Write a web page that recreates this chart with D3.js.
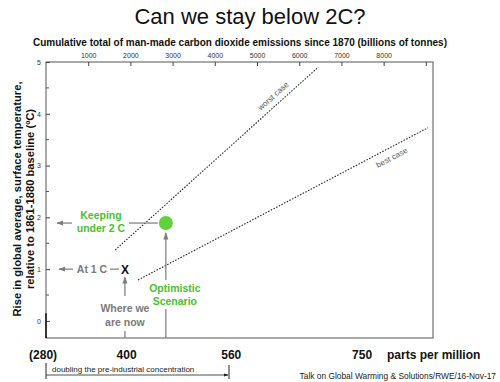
<!DOCTYPE html>
<html>
<head>
<meta charset="utf-8">
<script src="https://cdn.jsdelivr.net/npm/d3@7"></script>
<style>
  body { margin: 0; background: #fff; }
  text { font-family: "Liberation Sans", Arial, sans-serif; }
</style>
</head>
<body>
<svg id="chart" width="500" height="382"></svg>
<script>
// data
let emissionTicks = [1000, 2000, 3000, 4000, 5000, 6000, 7000, 8000, 9000];
let tempTicks = [0, 1, 2, 3, 4, 5];
let tempMinor = [0.5, 1.5, 2.5, 3.5, 4.5];
// concentration labels placed at an equivalent cumulative emission
let ppmLabels = ["(280)", "400", "560", "750"];
let ppmAtEmission = [-70, 1910, 4390, 7490];
// scenario lines: [emissions, temperature]
let worstCase = [[1640, 1.37], [6450, 4.9]];
let bestCase = [[2180, 0.79], [9050, 3.73]];
let nowPoint = [1870, 1.0];
let optimisticPoint = [2840, 1.89];

let width = 500;
let height = 382;
let svg = d3.select("#chart");

let x = d3.scaleLinear().domain([0, 9170]).range([46, 433]);
let y = d3.scaleLinear().domain([-0.33, 5]).range([338, 62]);

let grey = "#7a7a7a";
let green = "#47c22e";

let defs = svg.append("defs");
function marker(id, color) {
    defs.append("marker")
        .attr("id", id)
        .attr("viewBox", "0 0 10 10")
        .attr("refX", 9).attr("refY", 5)
        .attr("markerWidth", 6).attr("markerHeight", 6)
        .attr("orient", "auto-start-reverse")
        .append("path")
        .attr("d", "M0,1.5 L10,5 L0,8.5 Z")
        .attr("fill", color);
}
marker("arrGrey", grey);
marker("arrBlack", "#222");

// title
svg.append("text")
    .attr("x", width / 2).attr("y", 24)
    .attr("text-anchor", "middle")
    .attr("font-size", 22)
    .attr("fill", "#111")
    .text("Can we stay below 2C?");

svg.append("text")
    .attr("x", 240).attr("y", 46)
    .attr("text-anchor", "middle")
    .attr("font-size", 10)
    .attr("font-weight", "bold")
    .attr("fill", "#111")
    .text("Cumulative total of man-made carbon dioxide emissions since 1870 (billions of tonnes)");

// frame
svg.append("rect")
    .attr("x", x.range()[0]).attr("y", y.range()[1])
    .attr("width", x.range()[1] - x.range()[0])
    .attr("height", y.range()[0] - y.range()[1])
    .attr("fill", "none")
    .attr("stroke", "#555")
    .attr("stroke-width", 1);

// top axis (ticks inward)
let topAxis = d3.axisTop(x)
    .tickValues(emissionTicks)
    .tickSize(-4)
    .tickFormat(d => d < 9000 ? d : "");
let gTop = svg.append("g")
    .attr("transform", "translate(0," + y.range()[1] + ")")
    .call(topAxis);
gTop.select(".domain").remove();
gTop.selectAll("line").attr("stroke", "#444");
gTop.selectAll("text")
    .attr("font-size", 7)
    .attr("fill", "#333")
    .attr("y", -4)
    .attr("dy", 0);

// left axis (ticks inward)
let leftAxis = d3.axisLeft(y).tickValues(tempTicks).tickSize(-4).tickFormat(d3.format("d"));
let gLeft = svg.append("g")
    .attr("transform", "translate(" + x.range()[0] + ",0)")
    .call(leftAxis);
gLeft.select(".domain").remove();
gLeft.selectAll("line").attr("stroke", "#444");
gLeft.selectAll("text")
    .attr("font-size", 7)
    .attr("fill", "#333")
    .attr("x", -5);
svg.append("g").selectAll("line")
    .data(tempMinor)
    .join("line")
    .attr("x1", x.range()[0]).attr("x2", x.range()[0] + 3)
    .attr("y1", d => y(d)).attr("y2", d => y(d))
    .attr("stroke", "#555");
// darker stub of axis near zero
svg.append("line")
    .attr("x1", x.range()[0]).attr("x2", x.range()[0])
    .attr("y1", y(0.15)).attr("y2", y(-0.33))
    .attr("stroke", "#111").attr("stroke-width", 1.5);

// y-axis title
let yTitle = svg.append("text")
    .attr("transform", "translate(21,199) rotate(-90)")
    .attr("text-anchor", "middle")
    .attr("font-size", 11.2)
    .attr("font-weight", "bold")
    .attr("fill", "#111");
yTitle.append("tspan").attr("x", 0).attr("dy", 0).text("Rise in global average, surface temperature,");
yTitle.append("tspan").attr("x", 0).attr("dy", 13).text("relative to 1861-1880 baseline (\u00baC)");

// scenario lines
let line = d3.line().x(d => x(d[0])).y(d => y(d[1]));
[worstCase, bestCase].forEach(pts => {
    svg.append("path")
        .attr("d", line(pts))
        .attr("fill", "none")
        .attr("stroke", "#222")
        .attr("stroke-width", 1.1)
        .attr("stroke-dasharray", "1.5,1.5");
});

function angleOf(pts) {
    return Math.atan2(y(pts[1][1]) - y(pts[0][1]), x(pts[1][0]) - x(pts[0][0])) * 180 / Math.PI;
}
svg.append("text")
    .attr("transform", "translate(" + 275 + "," + 98 + ") rotate(" + angleOf(worstCase) + ")")
    .attr("text-anchor", "middle")
    .attr("font-size", 8)
    .attr("fill", "#555")
    .text("worst case");
svg.append("text")
    .attr("transform", "translate(" + 393 + "," + 160 + ") rotate(" + angleOf(bestCase) + ")")
    .attr("text-anchor", "middle")
    .attr("font-size", 8)
    .attr("fill", "#555")
    .text("best case");

// optimistic scenario dot
let ox = x(optimisticPoint[0]), oy = y(optimisticPoint[1]);
svg.append("circle")
    .attr("cx", ox).attr("cy", oy).attr("r", 7)
    .attr("fill", "#5fd23c");

// "Keeping under 2 C"
svg.append("line")
    .attr("x1", 72).attr("x2", 57).attr("y1", oy).attr("y2", oy)
    .attr("stroke", grey).attr("stroke-width", 1.2)
    .attr("marker-end", "url(#arrGrey)");
svg.append("line")
    .attr("x1", 129).attr("x2", ox - 8).attr("y1", oy).attr("y2", oy)
    .attr("stroke", grey).attr("stroke-width", 1.2);
let keep = svg.append("text")
    .attr("text-anchor", "middle")
    .attr("font-size", 10.5)
    .attr("font-weight", "bold")
    .attr("fill", green);
keep.append("tspan").attr("x", 101).attr("y", 219).text("Keeping");
keep.append("tspan").attr("x", 101).attr("y", 232).text("under 2 C");

// "At 1 C" and the X
let nx = x(nowPoint[0]), ny = y(nowPoint[1]);
svg.append("text")
    .attr("x", nx).attr("y", ny + 4.5)
    .attr("text-anchor", "middle")
    .attr("font-size", 12)
    .attr("font-weight", "bold")
    .attr("fill", "#111")
    .text("X");
svg.append("line")
    .attr("x1", 73).attr("x2", 59).attr("y1", ny).attr("y2", ny)
    .attr("stroke", grey).attr("stroke-width", 1.2)
    .attr("marker-end", "url(#arrGrey)");
svg.append("line")
    .attr("x1", 110).attr("x2", nx - 6).attr("y1", ny).attr("y2", ny)
    .attr("stroke", grey).attr("stroke-width", 1.2);
svg.append("text")
    .attr("x", 92).attr("y", ny + 4)
    .attr("text-anchor", "middle")
    .attr("font-size", 10.5)
    .attr("font-weight", "bold")
    .attr("fill", grey)
    .text("At 1 C");

// "Where we are now"
svg.append("line")
    .attr("x1", nx).attr("x2", nx).attr("y1", 296).attr("y2", ny + 8)
    .attr("stroke", grey).attr("stroke-width", 1.2)
    .attr("marker-end", "url(#arrGrey)");
svg.append("line")
    .attr("x1", nx).attr("x2", nx).attr("y1", 331).attr("y2", y.range()[0])
    .attr("stroke", grey).attr("stroke-width", 1.2);
let where = svg.append("text")
    .attr("text-anchor", "middle")
    .attr("font-size", 10.5)
    .attr("font-weight", "bold")
    .attr("fill", grey);
where.append("tspan").attr("x", nx).attr("y", 312).text("Where we");
where.append("tspan").attr("x", nx).attr("y", 326).text("are now");

// "Optimistic Scenario"
svg.append("line")
    .attr("x1", ox).attr("x2", ox).attr("y1", 280).attr("y2", oy + 10)
    .attr("stroke", grey).attr("stroke-width", 1.2)
    .attr("marker-end", "url(#arrGrey)");
svg.append("line")
    .attr("x1", ox).attr("x2", ox).attr("y1", 309).attr("y2", y.range()[0])
    .attr("stroke", grey).attr("stroke-width", 1.2);
let opt = svg.append("text")
    .attr("text-anchor", "middle")
    .attr("font-size", 10.5)
    .attr("font-weight", "bold")
    .attr("fill", green);
opt.append("tspan").attr("x", ox + 9).attr("y", 292).text("Optimistic");
opt.append("tspan").attr("x", ox + 9).attr("y", 305).text("Scenario");

// concentration labels under the chart
svg.append("g").selectAll("text")
    .data(ppmLabels)
    .join("text")
    .attr("x", (d, i) => x(ppmAtEmission[i]))
    .attr("y", 359)
    .attr("text-anchor", "middle")
    .attr("font-size", 12)
    .attr("font-weight", "bold")
    .attr("fill", "#111")
    .text(d => d);
svg.append("text")
    .attr("x", 387).attr("y", 359)
    .attr("font-size", 12)
    .attr("font-weight", "bold")
    .attr("fill", "#111")
    .text("parts per million");

// doubling arrow
let x280 = x.range()[0], x560 = 229;
svg.append("line")
    .attr("x1", x280).attr("x2", x280).attr("y1", 363).attr("y2", 379)
    .attr("stroke", "#222").attr("stroke-width", 1);
svg.append("line")
    .attr("x1", x280).attr("x2", x560 - 1).attr("y1", 375).attr("y2", 375)
    .attr("stroke", "#222").attr("stroke-width", 0.8)
    .attr("marker-end", "url(#arrBlack)");
svg.append("line")
    .attr("x1", x560).attr("x2", x560).attr("y1", 365).attr("y2", 379)
    .attr("stroke", "#222").attr("stroke-width", 1);
svg.append("text")
    .attr("x", 52).attr("y", 372)
    .attr("font-size", 8)
    .attr("fill", "#222")
    .text("doubling the pre-industrial concentration");

svg.append("text")
    .attr("x", 496).attr("y", 379)
    .attr("text-anchor", "end")
    .attr("font-size", 8.4)
    .attr("fill", "#222")
    .text("Talk on Global Warming & Solutions/RWE/16-Nov-17");
</script>
</body>
</html>
